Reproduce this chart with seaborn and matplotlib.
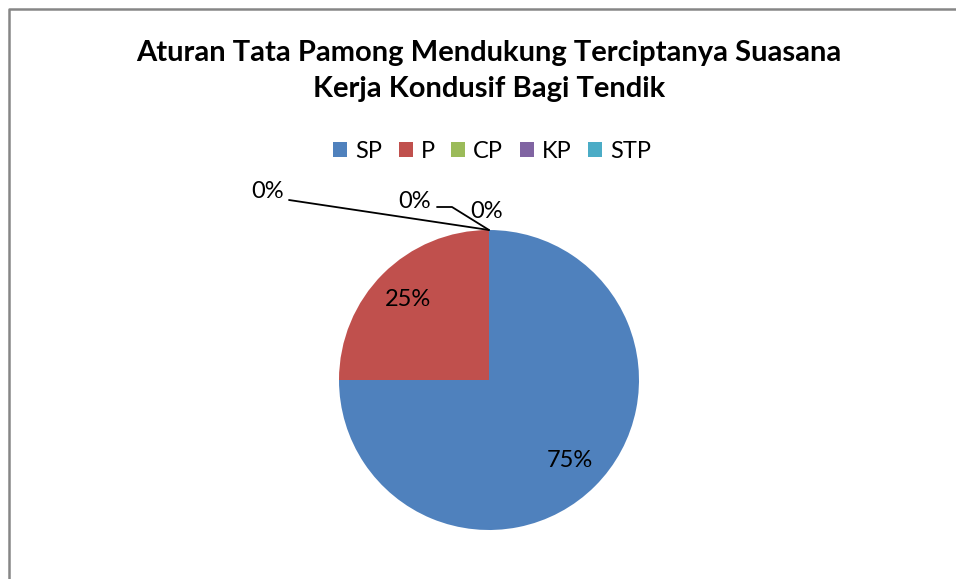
import numpy as np
import matplotlib
matplotlib.use('Agg')
import matplotlib.pyplot as plt
import seaborn as sns
from matplotlib.patches import Patch

categories = ['SP', 'P', 'CP', 'KP', 'STP']
values = [75, 25, 0, 0, 0]
colors = ['#4F81BD', '#C0504D', '#9BBB59', '#8064A2', '#4BACC6']
title = 'Aturan Tata Pamong Mendukung Terciptanya Suasana\nKerja Kondusif Bagi Tendik'

sns.set_theme(style='white')
plt.rcParams['font.family'] = ['Lato', 'DejaVu Sans']
plt.rcParams['text.color'] = 'black'

fig = plt.figure(figsize=(9.56, 5.79), dpi=100)
ax = fig.add_axes([0, 0, 1, 1])

# chart frame (only top and left edges visible)
ax.plot([9, 9, 956], [0, 570, 570], color='#868686', lw=1.8, solid_capstyle='butt')

cx, cy, r = 489, 199, 150
wedges, _ = ax.pie(values, colors=colors, startangle=90, counterclock=False,
                   center=(cx, cy), radius=r, frame=True,
                   wedgeprops={'edgecolor': 'none', 'linewidth': 0})
ax.set_xlim(0, 956)
ax.set_ylim(0, 579)
ax.axis('off')

# percentage labels for non-zero slices
total = sum(values)
theta = 90.0
for v in values:
    span = 360.0 * v / total
    if v > 0:
        mid = np.deg2rad(theta - span / 2)
        ax.text(cx + 0.76 * r * np.cos(mid), cy + 0.76 * r * np.sin(mid),
                f'{v / total:.0%}', ha='center', va='center', fontsize=17)
    theta -= span

# zero slices sit at the top of the pie; labels pulled out with leader lines
top = (cx, cy + r)
ax.text(268, 387, '0%', ha='center', va='center', fontsize=17)
ax.plot([289, top[0]], [379, top[1]], color='black', lw=1.3)
ax.text(415, 377, '0%', ha='center', va='center', fontsize=17)
ax.plot([437, 452, top[0]], [372, 372, top[1]], color='black', lw=1.3)
ax.text(487, 367, '0%', ha='center', va='center', fontsize=17)

handles = [Patch(facecolor=c, edgecolor='none') for c in colors]
fig.legend(handles, categories, loc='center', bbox_to_anchor=(492 / 956, 1 - 151 / 579),
           ncol=5, frameon=False, fontsize=17, handlelength=0.6, handleheight=0.6,
           handletextpad=0.33, columnspacing=0.7)

fig.text(489 / 956, 1 - 71 / 579, title, ha='center', va='center', fontsize=21,
         fontweight='bold', linespacing=1.45, color='black')

fig.savefig('out.png', dpi=100)
